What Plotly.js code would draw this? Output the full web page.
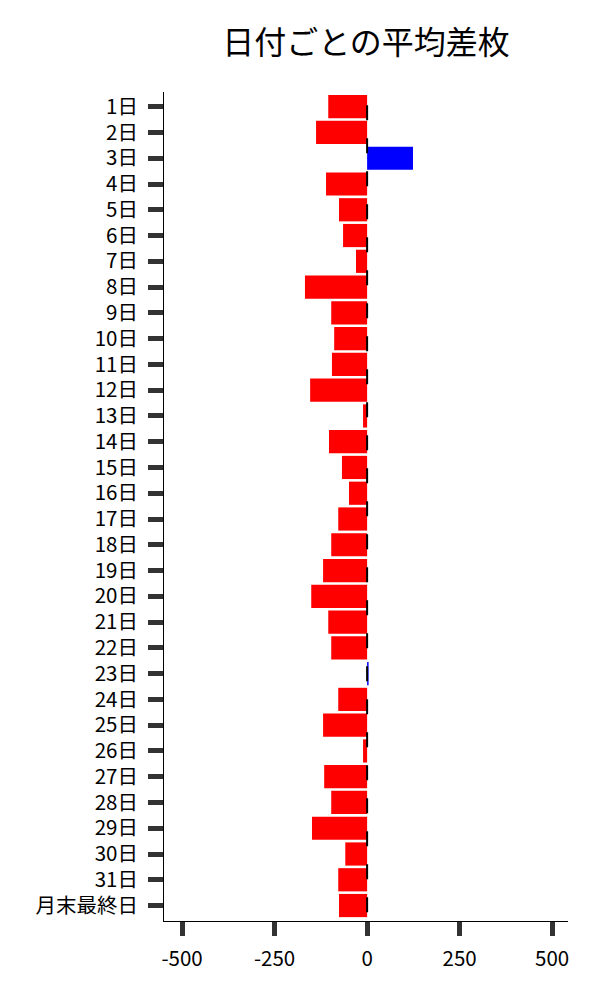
<!DOCTYPE html>
<html>
<head>
<meta charset="utf-8">
<script src="https://cdn.plot.ly/plotly-3.0.1.min.js"></script>
<style>html,body{margin:0;padding:0;background:#fff;}#chart{width:600px;height:1000px;}</style>
</head>
<body>
<div id="chart"></div>
<script>
const categories = ["1日","2日","3日","4日","5日","6日","7日","8日","9日","10日","11日","12日","13日","14日","15日","16日","17日","18日","19日","20日","21日","22日","23日","24日","25日","26日","27日","28日","29日","30日","31日","月末最終日"];
const values = [-105,-138,124,-111,-76,-65,-30,-168,-97,-89,-95,-154,-11,-103,-68,-49,-78,-97,-119,-151,-105,-97,4,-78,-119,-11,-116,-97,-149,-59,-78,-76];
const xTickVals = [-500,-250,0,250,500];
const xTickText = ["-500","-250","0","250","500"];

const colors = values.map(v => v >= 0 ? "#0000FF" : "#FF0000");
const font = "Noto Sans CJK JP";

Plotly.newPlot("chart", [{
  type: "bar",
  orientation: "h",
  x: values,
  y: categories,
  marker: {color: colors, line: {width: 0}},
  hoverinfo: "x+y"
}], {
  width: 600,
  height: 1000,
  margin: {l: 164, r: 32, t: 92, b: 79},
  paper_bgcolor: "#fff",
  plot_bgcolor: "#fff",
  bargap: 0.1,
  showlegend: false,
  font: {family: font, color: "#000", size: 20},
  title: {text: "日付ごとの平均差枚", font: {family: font, size: 32, color: "#000"}, x: 0.5, xref: "paper", xanchor: "center", y: 0.957, yanchor: "middle"},
  xaxis: {
    range: [-549, 543],
    tickvals: xTickVals,
    ticktext: xTickText,
    showgrid: false,
    zeroline: false,
    showline: true,
    linecolor: "#000",
    linewidth: 1,
    ticks: "outside",
    ticklen: 14,
    tickwidth: 5,
    tickcolor: "#333",
    ticklabelstandoff: 5,
    tickfont: {family: font, size: 20.5, color: "#000"}
  },
  yaxis: {
    type: "category",
    range: [31.6, -0.57],
    showgrid: false,
    zeroline: false,
    showline: true,
    linecolor: "#000",
    linewidth: 1,
    ticks: "outside",
    ticklen: 15,
    tickwidth: 5,
    tickcolor: "#333",
    ticklabelstandoff: 6,
    tickfont: {family: font, size: 20.5, color: "#000"}
  },
  shapes: [{
    type: "line",
    xref: "x", yref: "paper",
    x0: 0, x1: 0, y0: 0.984, y1: 0,
    line: {color: "#000", width: 2, dash: "15px,18px"},
    layer: "above"
  }]
}, {displayModeBar: false, staticPlot: true});
</script>
</body>
</html>
